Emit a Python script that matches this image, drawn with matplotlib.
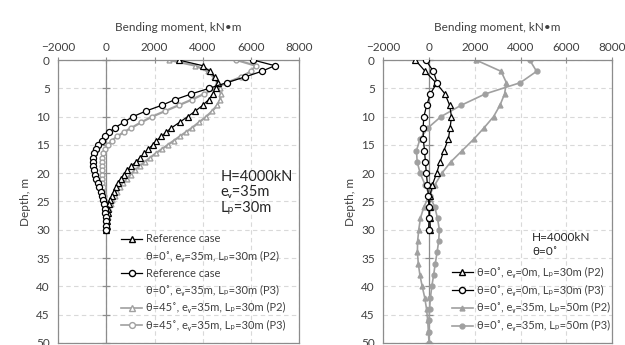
import numpy as np
import matplotlib
matplotlib.use("Agg")
import matplotlib.pyplot as plt
from matplotlib.lines import Line2D

plt.rcParams['font.family'] = ['Lato', 'DejaVu Sans']

# ---- left panel data (depth in m, moment in kN*m)
depth_left = [0, 1, 2, 3, 4, 5, 6, 7, 8, 9, 10, 11, 12, 12.75, 13.5, 14.25, 15, 15.75,
              16.5, 17.25, 18, 18.75, 19.5, 20.25, 21, 21.75, 22.5, 23.25, 24, 24.75,
              25.5, 26.25, 27, 27.75, 28.5, 29.25, 30]
ref_p2 = [3000, 4000, 4300, 4500, 4620, 4560, 4420, 4250, 4000, 3700, 3380, 3040, 2700,
          2480, 2280, 2080, 1920, 1740, 1570, 1400, 1230, 1020, 860, 720, 600, 490, 390,
          300, 220, 160, 110, 75, 50, 30, 15, 5, 0]
ref_p3 = [6100, 7000, 6450, 5750, 5000, 4270, 3520, 2850, 2300, 1650, 1100, 720, 340,
          120, -60, -200, -330, -430, -500, -540, -560, -560, -530, -480, -420, -360,
          -300, -240, -190, -140, -100, -70, -45, -25, -12, -5, 0]
t45_p2 = [2600, 3700, 4200, 4450, 4600, 4700, 4750, 4720, 4600, 4400, 4150, 3850, 3550,
          3300, 3050, 2800, 2550, 2300, 2050, 1820, 1600, 1380, 1180, 1000, 840, 690,
          560, 440, 340, 250, 180, 120, 80, 50, 25, 10, 0]
t45_p3 = [5400, 6200, 6000, 5600, 5000, 4550, 4050, 3550, 3000, 2450, 1900, 1450, 1030,
          720, 450, 220, 50, -60, -130, -170, -190, -200, -200, -190, -180, -165, -150,
          -130, -110, -90, -70, -50, -35, -22, -12, -5, 0]

# ---- right panel data
depth_30 = [0, 2, 4, 6, 8, 10, 12, 14, 16, 18, 20, 22, 24, 26, 28, 30]
ev0_p2 = [-600, -170, 300, 700, 900, 980, 920, 840, 650, 480, 330, 150, 40, 20, 30, 60]
ev0_p3 = [-150, 190, 350, 50, -100, -230, -260, -250, -200, -160, -120, -70, -30, -10, 0, -20]
depth_50 = [0, 2, 4, 6, 8, 10, 12, 14, 16, 18, 20, 22, 24, 26, 28, 30, 32, 34, 36, 38,
            40, 42, 44, 46, 48, 50]
lp50_p2 = [2050, 3150, 3380, 3300, 3100, 2820, 2400, 1950, 1450, 950, 560, 260, 0, -230,
           -380, -450, -500, -510, -470, -400, -300, -190, -110, -60, -30, 0]
lp50_p3 = [4400, 4700, 3990, 2450, 1400, 520, -50, -400, -550, -520, -390, -180, 30, 250,
           370, 450, 420, 350, 270, 200, 120, 60, 20, 0, 0, 0]

xticks = [-2000, 0, 2000, 4000, 6000, 8000]
yticks = [0, 5, 10, 15, 20, 25, 30, 35, 40, 45, 50]

txt = '#404040'
edge = '#8c8c8c'
grey = '#a0a0a0'

fig = plt.figure(figsize=(6.25, 3.45), dpi=100)
axL = fig.add_axes([0.0933, 0.006, 0.385, 0.820])
axR = fig.add_axes([0.6133, 0.006, 0.366, 0.820])


def style(ax):
    ax.set_axisbelow(True)
    ax.set_xlim(-2000, 8000)
    ax.set_ylim(50, 0)
    ax.set_xticks(xticks)
    ax.set_yticks(yticks)
    ax.xaxis.tick_top()
    ax.xaxis.set_label_position('top')
    ax.tick_params(axis='x', direction='inout', length=4, color=edge, labelsize=8.5,
                   labelcolor=txt, pad=3)
    ax.tick_params(axis='y', length=0, labelsize=8.5, labelcolor=txt, pad=6)
    ax.grid(True, ls=(0, (4, 3)), color='#d9d9d9', lw=0.8)
    for s in ax.spines.values():
        s.set_color(edge)
        s.set_linewidth(0.9)
    ax.axvline(0, color=edge, lw=0.9, zorder=1.5)
    ax.plot(np.zeros(len(yticks)), yticks, ls='none', marker='_', ms=6, mew=0.9,
            color=edge, zorder=1.5, clip_on=False)
    ax.set_xlabel('Bending moment, kN\u2022m', fontsize=8.5, color=txt, labelpad=8)
    ax.set_ylabel('Depth, m', fontsize=8.5, color=txt, labelpad=4)


style(axL)
style(axR)

# left panel curves
axL.plot(t45_p2, depth_left, color=grey, lw=1.6, marker='^', ms=3.5, mfc='white',
         mec=grey, mew=1.0, zorder=2)
axL.plot(t45_p3, depth_left, color=grey, lw=1.6, marker='o', ms=3.5, mfc='white',
         mec=grey, mew=1.0, zorder=2)
axL.plot(ref_p2, depth_left, color='black', lw=0.9, marker='^', ms=4.2, mfc='white',
         mec='black', mew=0.9, zorder=3)
axL.plot(ref_p3, depth_left, color='black', lw=0.9, marker='o', ms=4.4, mfc='white',
         mec='black', mew=0.9, zorder=3)

blank = Line2D([], [], color='none')
hL = [Line2D([], [], color='black', lw=0.9, marker='^', ms=4.2, mfc='white', mec='black'),
      blank,
      Line2D([], [], color='black', lw=0.9, marker='o', ms=4.4, mfc='white', mec='black'),
      blank,
      Line2D([], [], color=grey, lw=1.2, marker='^', ms=4.2, mfc='white', mec=grey),
      Line2D([], [], color=grey, lw=1.2, marker='o', ms=4.2, mfc='white', mec=grey)]
labL = ['Reference case',
        '\u03b8=0\u02da, e\u1d65=35m, L\u209a=30m (P2)',
        'Reference case',
        '\u03b8=0\u02da, e\u1d65=35m, L\u209a=30m (P3)',
        '\u03b8=45\u02da, e\u1d65=35m, L\u209a=30m (P2)',
        '\u03b8=45\u02da, e\u1d65=35m, L\u209a=30m (P3)']
legL = axL.legend(hL, labL, loc='upper left', bbox_to_anchor=(0.262, 0.387),
                  frameon=False, fontsize=8, handlelength=1.9, handletextpad=0.35,
                  labelspacing=0.56, borderpad=0, borderaxespad=0)
for t in legL.get_texts():
    t.set_color(txt)

axL.text(0.675, 0.452, 'H=4000kN\ne\u1d65=35m\nL\u209a=30m', transform=axL.transAxes,
         fontsize=10.5, color='#262626', linespacing=1.15, va='bottom', ha='left')

# right panel curves
axR.plot(lp50_p2, depth_50, color=grey, lw=1.2, marker='^', ms=3.5, mfc=grey, mec=grey,
         zorder=2)
axR.plot(lp50_p3, depth_50, color=grey, lw=1.2, marker='o', ms=3.5, mfc=grey, mec=grey,
         zorder=2)
axR.plot(ev0_p2, depth_30, color='black', lw=0.9, marker='^', ms=4.2, mfc='white',
         mec='black', mew=0.9, zorder=3)
axR.plot(ev0_p3, depth_30, color='black', lw=0.9, marker='o', ms=4.4, mfc='white',
         mec='black', mew=0.9, zorder=3)

hR = [Line2D([], [], color='black', lw=0.9, marker='^', ms=4.2, mfc='white', mec='black'),
      Line2D([], [], color='black', lw=0.9, marker='o', ms=4.4, mfc='white', mec='black'),
      Line2D([], [], color=grey, lw=1.2, marker='^', ms=3.5, mfc=grey, mec=grey),
      Line2D([], [], color=grey, lw=1.2, marker='o', ms=3.5, mfc=grey, mec=grey)]
labR = ['\u03b8=0\u02da, e\u1d65=0m, L\u209a=30m (P2)',
        '\u03b8=0\u02da, e\u1d65=0m, L\u209a=30m (P3)',
        '\u03b8=0\u02da, e\u1d65=35m, L\u209a=50m (P2)',
        '\u03b8=0\u02da, e\u1d65=35m, L\u209a=50m (P3)']
legR = axR.legend(hR, labR, loc='upper left', bbox_to_anchor=(0.30, 0.27),
                  frameon=False, fontsize=8, handlelength=1.9, handletextpad=0.35,
                  labelspacing=0.62, borderpad=0, borderaxespad=0)
for t in legR.get_texts():
    t.set_color(txt)

axR.text(0.65, 0.305, 'H=4000kN\n\u03b8=0\u02da', transform=axR.transAxes,
         fontsize=8.5, color='#262626', linespacing=1.25, va='bottom', ha='left')

fig.savefig('out.png', dpi=100)
